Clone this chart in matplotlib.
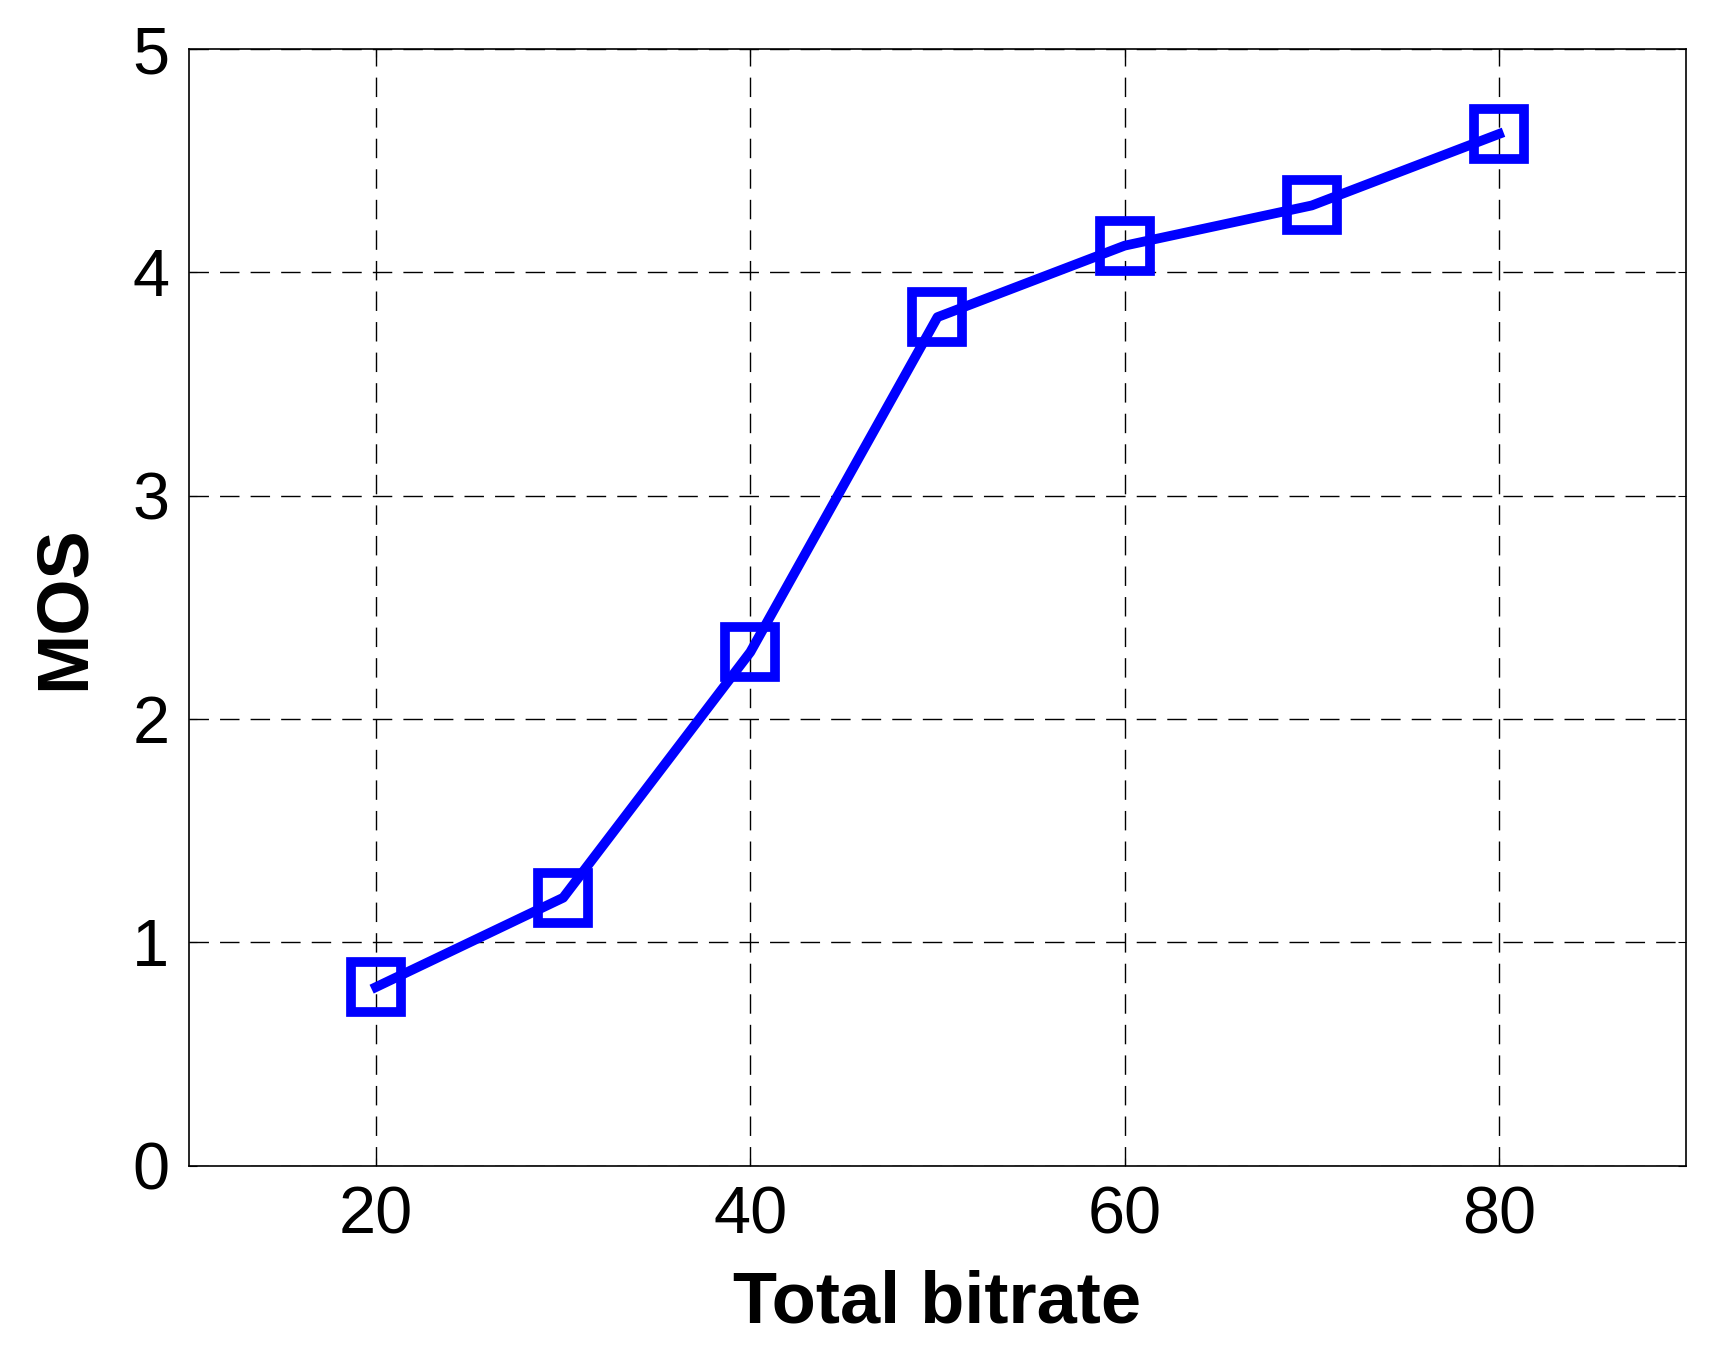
import matplotlib
matplotlib.use("Agg")
import matplotlib.pyplot as plt

bitrate = [20, 30, 40, 50, 60, 70, 80]
mos = [0.8, 1.2, 2.3, 3.8, 4.12, 4.3, 4.62]

plt.rcParams["font.family"] = ["Liberation Sans", "DejaVu Sans"]

fig = plt.figure(figsize=(17.17, 13.65), dpi=100)
ax = fig.add_axes([0.11, 0.146, 0.872, 0.818])

ax.plot(bitrate, mos, color="#0000ff", linewidth=7, marker="s", markersize=36,
        markerfacecolor="none", markeredgewidth=7, markeredgecolor="#0000ff")

ax.set_xlim(10, 90)
ax.set_ylim(0, 5)
ax.set_xticks([20, 40, 60, 80])
ax.set_yticks([0, 1, 2, 3, 4, 5])
ax.grid(True, color="black", linestyle=(0, (14, 8)), linewidth=1)
ax.tick_params(labelsize=48, direction="in", length=6, top=True, right=True, pad=14)
for s in ax.spines.values():
    s.set_linewidth(1.2)

ax.set_xlabel("Total bitrate", fontsize=52, fontweight="bold", labelpad=16)
ax.set_ylabel("MOS", fontsize=52, fontweight="bold", labelpad=24)

fig.savefig("out.png", dpi=100)
